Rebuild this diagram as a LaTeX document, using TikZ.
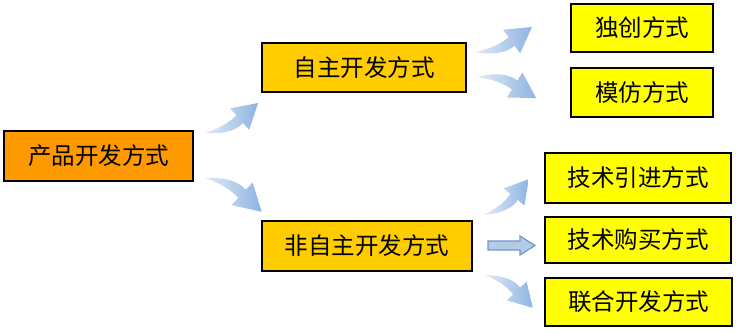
\documentclass[tikz,border=0pt]{standalone}
\usepackage{fontspec}
\setmainfont{Noto Sans CJK SC}
\definecolor{orangeA}{HTML}{FF9900}
\definecolor{goldA}{HTML}{FFCC00}
\definecolor{yelA}{HTML}{FFFF00}
\definecolor{blueL}{HTML}{E2EBF6}
\definecolor{blueD}{HTML}{8DB4E2}
\definecolor{blueE}{HTML}{6F97C8}
\definecolor{blueM}{HTML}{B4CBE8}
\tikzset{
  box/.style={draw=black, line width=2pt, font=\fontsize{23.5}{23.5}\selectfont, inner sep=0pt, anchor=center},
  curvy/.style={left color=blueL, right color=blueD, draw=none},
  curvarrow/.pic={
    \path[curvy] (0,0) .. controls (14,-3) and (26,-3) .. (36,0) -- (34,9) -- (61,0)
      -- (40,-19) -- (38,-10) .. controls (26,-14) and (12,-8) .. (0,0) -- cycle;
  },
}
\begin{document}
\begin{tikzpicture}[x=1pt,y=1pt]
\useasboundingbox (0,0) rectangle (738,333);
% boxes
\node[box, fill=orangeA, minimum width=189pt, minimum height=50pt] (p) at (98.5,177) {产品开发方式\hspace{6pt}};
\node[box, fill=goldA, minimum width=204pt, minimum height=49pt] (a) at (364,265.5) {自主开发方式\hspace{20pt}};
\node[box, fill=goldA, minimum width=210pt, minimum height=50pt] (b) at (367,87) {非自主开发方式};
\node[box, fill=yelA, minimum width=142pt, minimum height=48pt] (c1) at (642,305) {独创方式};
\node[box, fill=yelA, minimum width=142pt, minimum height=49pt] (c2) at (642,240.5) {模仿方式};
\node[box, fill=yelA, minimum width=186pt, minimum height=50pt] (d1) at (638,155) {技术引进方式};
\node[box, fill=yelA, minimum width=186pt, minimum height=46pt] (d2) at (638,93) {技术购买方式};
\node[box, fill=yelA, minimum width=187pt, minimum height=48pt] (d3) at (638.5,31) {联合开发方式};
% curved block arrows
\pic[shift={(205,200)}, rotate=29.5] {curvarrow};
\pic[shift={(205,155)}, rotate=-30.8, scale=1.08, yscale=-1] {curvarrow};
\pic[shift={(475,281)}, rotate=23.7, scale=1.02] {curvarrow};
\pic[shift={(477,256)}, rotate=-19.6, scale=1.03, yscale=-1] {curvarrow};
\pic[shift={(484,118)}, rotate=38.7, scale=0.94] {curvarrow};
\pic[shift={(485,58)}, rotate=-34.5, scale=0.95, yscale=-1] {curvarrow};
% straight arrow
\path[draw=blueE, line width=1.2pt, fill=blueM] (488,83) -- (520,83) -- (520,78) -- (535,87.5)
  -- (520,97) -- (520,92) -- (488,92) -- cycle;
\end{tikzpicture}
\end{document}
